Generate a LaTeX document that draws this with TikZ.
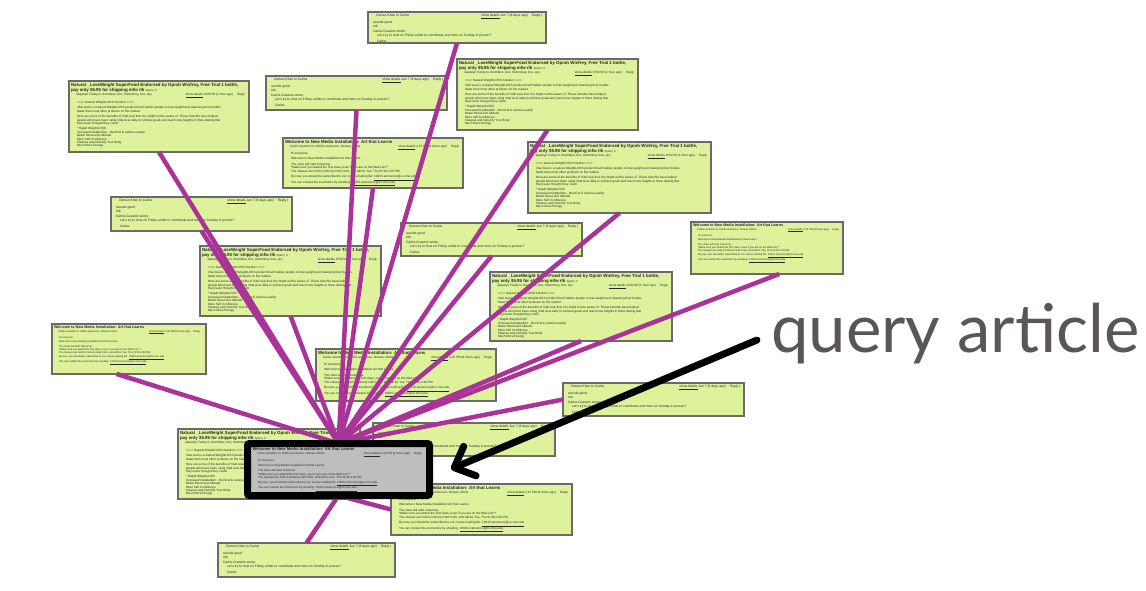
\documentclass[tikz,border=0pt]{standalone}
\usepackage{fontspec}
\setmainfont{Liberation Sans}
\newfontfamily\qafont{Lato}
\usetikzlibrary{arrows.meta,calc,shadows}
\definecolor{boxfill}{HTML}{DEF29C}
\definecolor{boxline}{HTML}{6A6A6A}
\definecolor{qfill}{HTML}{BEBEBE}
\definecolor{linkmag}{HTML}{AA3399}
\definecolor{mailink}{HTML}{262626}
\definecolor{qagray}{HTML}{5B5656}
\pgfdeclarelayer{boxes}
\pgfdeclarelayer{links}
\pgfsetlayers{boxes,links,main}

\newcommand{\hdr}[2]{\makebox[\linewidth][l]{#1\hfill #2}\par}

\newcommand{\bodynat}{\raggedright
 {\fontsize{4.4}{5.1}\selectfont\bfseries \mbox{Natural \_LoseWeight SuperFood Endorsed by Oprah Winfrey, Free Trial 1 bottle,}\\ \mbox{pay only \$5.95 for shipping mfw rlk\ {\mdseries\fontsize{2.8}{3}\selectfont Spam | X}}\par}
 \vspace{1pt}
 \fontsize{3.1}{3.4}\selectfont
 \hdr{\hspace*{5pt}Jaquelyn Farley to chambers, box, thetomney, box, any}{\underline{show details} 9:50 PM (1 hour ago)\hspace{4pt}Reply\hspace{2pt}}
 \vspace{2.5pt}\leftskip=6pt
 ==== Natural WeightLOSS Solution ====\par\vspace{2pt}
 Vital Acai is a natural WeightLOSS product that Enables people to lose weight and cleansing their bodies\\ faster than most other products on the market.\par\vspace{2pt}
 Here are some of the benefits of Vital Acai that You might not be aware of. These benefits have helped\\ people who have been using Vital Acai daily to Achieve goals and reach new heights in there dieting that\\ they never thought they could.\par\vspace{2pt}
 * Rapid WeightLOSS\\ * Increased metabolism - BurnFat \& calories easily!\\ * Better Mood and Attitude\\ * More Self Confidence\\ * Cleanse and Detoxify Your Body\\ * Much More Energy\par}

\newcommand{\bodywel}{\raggedright
 {\fontsize{4.4}{5}\selectfont\bfseries Welcome to New Media Installation: Art that Learns\par}
 \vspace{1pt}
 \fontsize{3.1}{3.4}\selectfont
 \hdr{\hspace*{5pt}Carlos Guestrin to 10615-announce, Osman, Moha}{\underline{show details} 4:15 PM (8 hours ago)\hspace{4pt}Reply\hspace{2pt}}
 \vspace{1.5pt}\leftskip=6pt
 Hi everyone,\par\vspace{2.2pt}
 Welcome to New Media Installation:Art that Learns.\par\vspace{2.2pt}
 The class will start tomorrow.\\ **Make sure you attend the first class, even if you are on the Wait List.**\\ The classes are held in Doherty Hall C316, and will be Tue, Thu 01:30-4:20 PM.\par\vspace{2.2pt}
 By now, you should be subscribed to our course mailing list: \underline{10615-announce@cs.cmu.edu}.\\ You can contact the instructors by emailing: \underline{10615-instructors@cs.cmu.edu}.\par}

\newcommand{\bodyosm}{\raggedright
 \fontsize{3.3}{3.7}\selectfont
 \hdr{\hspace*{6pt}Osman Khan to Carlos}{\underline{show details} Jan 7 (8 days ago)\hspace{4pt}Reply | \hspace{1pt}}
 \vspace{1.5pt}\leftskip=3pt
 sounds good\\ rob\par\vspace{2pt}
 Carlos Guestrin wrote:\\ \hspace*{4pt}Let's try to chat on Friday a little to coordinate and more on Sunday in person?\par\vspace{2pt}
 \hspace*{4pt}Carlos\par}

\tikzset{
 mailbox/.style={draw=boxline, line width=1.4pt, fill=boxfill, outer sep=0pt, inner sep=0pt,
   drop shadow={shadow xshift=1.2pt, shadow yshift=-1.2pt, opacity=0.25, fill=black}},
 mailtext/.style={inner sep=2pt, outer sep=0pt, text=mailink},
 qbox/.style={draw=black, line width=7pt, fill=qfill, rounded corners=2pt, outer sep=0pt, inner sep=0pt},
 link/.style={draw=linkmag, line width=4.5pt},
 qarrow/.style={draw=black, line width=7pt, line cap=round, -{Straight Barb[length=17pt,width=32pt,round]}},
 qatext/.style={font=\qafont\fontsize{67}{78}\selectfont, text=qagray, inner sep=0pt}
}

% name, body, x, y, w, h
\newcommand{\mail}[6]{%
 \node[mailbox, minimum width=#5pt, minimum height=#6pt, anchor=north west] (#1) at (#3,#4) {};
 \node[mailtext, anchor=north west] (#1txt) at (#1.north west) {\parbox[t]{\dimexpr#5pt-4pt\relax}{#2}};
}
% scaled-down screenshot (about 0.84)
\newcommand{\mailsmall}[6]{%
 \node[mailbox, minimum width=#5pt, minimum height=#6pt, anchor=north west] (#1) at (#3,#4) {};
 \node[mailtext, anchor=north west] (#1txt) at (#1.north west) {\scalebox{0.84}{\parbox[t]{176pt}{#2}}};
}

\begin{document}
\begin{tikzpicture}[x=1pt,y=-1pt]
\useasboundingbox (0,0) rectangle (1146,590);
\begin{pgfonlayer}{boxes}
\fill[white] (0,0) rectangle (1146,590);
\mail{A}{\bodyosm}{368}{12}{178}{31}
\mail{B}{\bodynat}{457}{59}{181}{71}
\mail{C}{\bodyosm}{266}{76}{181}{34}
\mail{D}{\bodynat}{69}{81}{180}{71}
\mail{E}{\bodywel}{283}{138}{180}{50}
\mail{F}{\bodynat}{528}{142}{183}{71}
\mail{G}{\bodyosm}{111}{197}{181}{34}
\mail{H}{\bodyosm}{401}{223}{181}{33}
\mailsmall{I}{\bodywel}{691}{222}{152}{52}
\mail{J}{\bodynat}{200}{246}{181}{70}
\mail{K}{\bodynat}{490}{272}{182}{69}
\mailsmall{L}{\bodywel}{52}{324}{154}{50}
\mail{M}{\bodywel}{316}{349}{180}{52}
\mail{N}{\bodyosm}{563}{383}{181}{33}
\mail{O}{\bodynat}{178}{429}{182}{70}
\mail{P}{\bodyosm}{373}{423}{182}{33}
\mail{R}{\bodywel}{391}{484}{181}{51}
\mail{S}{\bodyosm}{218}{543}{177}{34}
\end{pgfonlayer}

\node[qbox, minimum width=182pt, minimum height=52pt, anchor=north west] (Q) at (247.5,443.5) {};
\node[mailtext, inner sep=0pt, anchor=north west] (Qtxt) at ($(Q.north west)+(5,4)$) {\scalebox{0.95}{\parbox[t]{180pt}{\bodywel}}};

\begin{pgfonlayer}{links}
\foreach \t in {A,B,C,D,E,F,G,H,J,K} \draw[link] (Q.north) -- (\t.south);
\draw[link] (Q.north) -- ($(I.south west)!0.58!(I.south east)$);
\draw[link] (Q.north) -- ($(L.south west)!0.42!(L.south east)$);
\draw[link] (Q.north) -- (N.west);
\draw[link] (Q.south) -- (R.west);
\draw[link] (Q.south) -- (S.north);
\end{pgfonlayer}

\node[qatext, anchor=base west] (qa) at (771,352) {query article};
\coordinate (qtail) at (757,340);
\coordinate (qtip) at (451,469);
\draw[qarrow] (qtail) -- (qtip);
\end{tikzpicture}
\end{document}
